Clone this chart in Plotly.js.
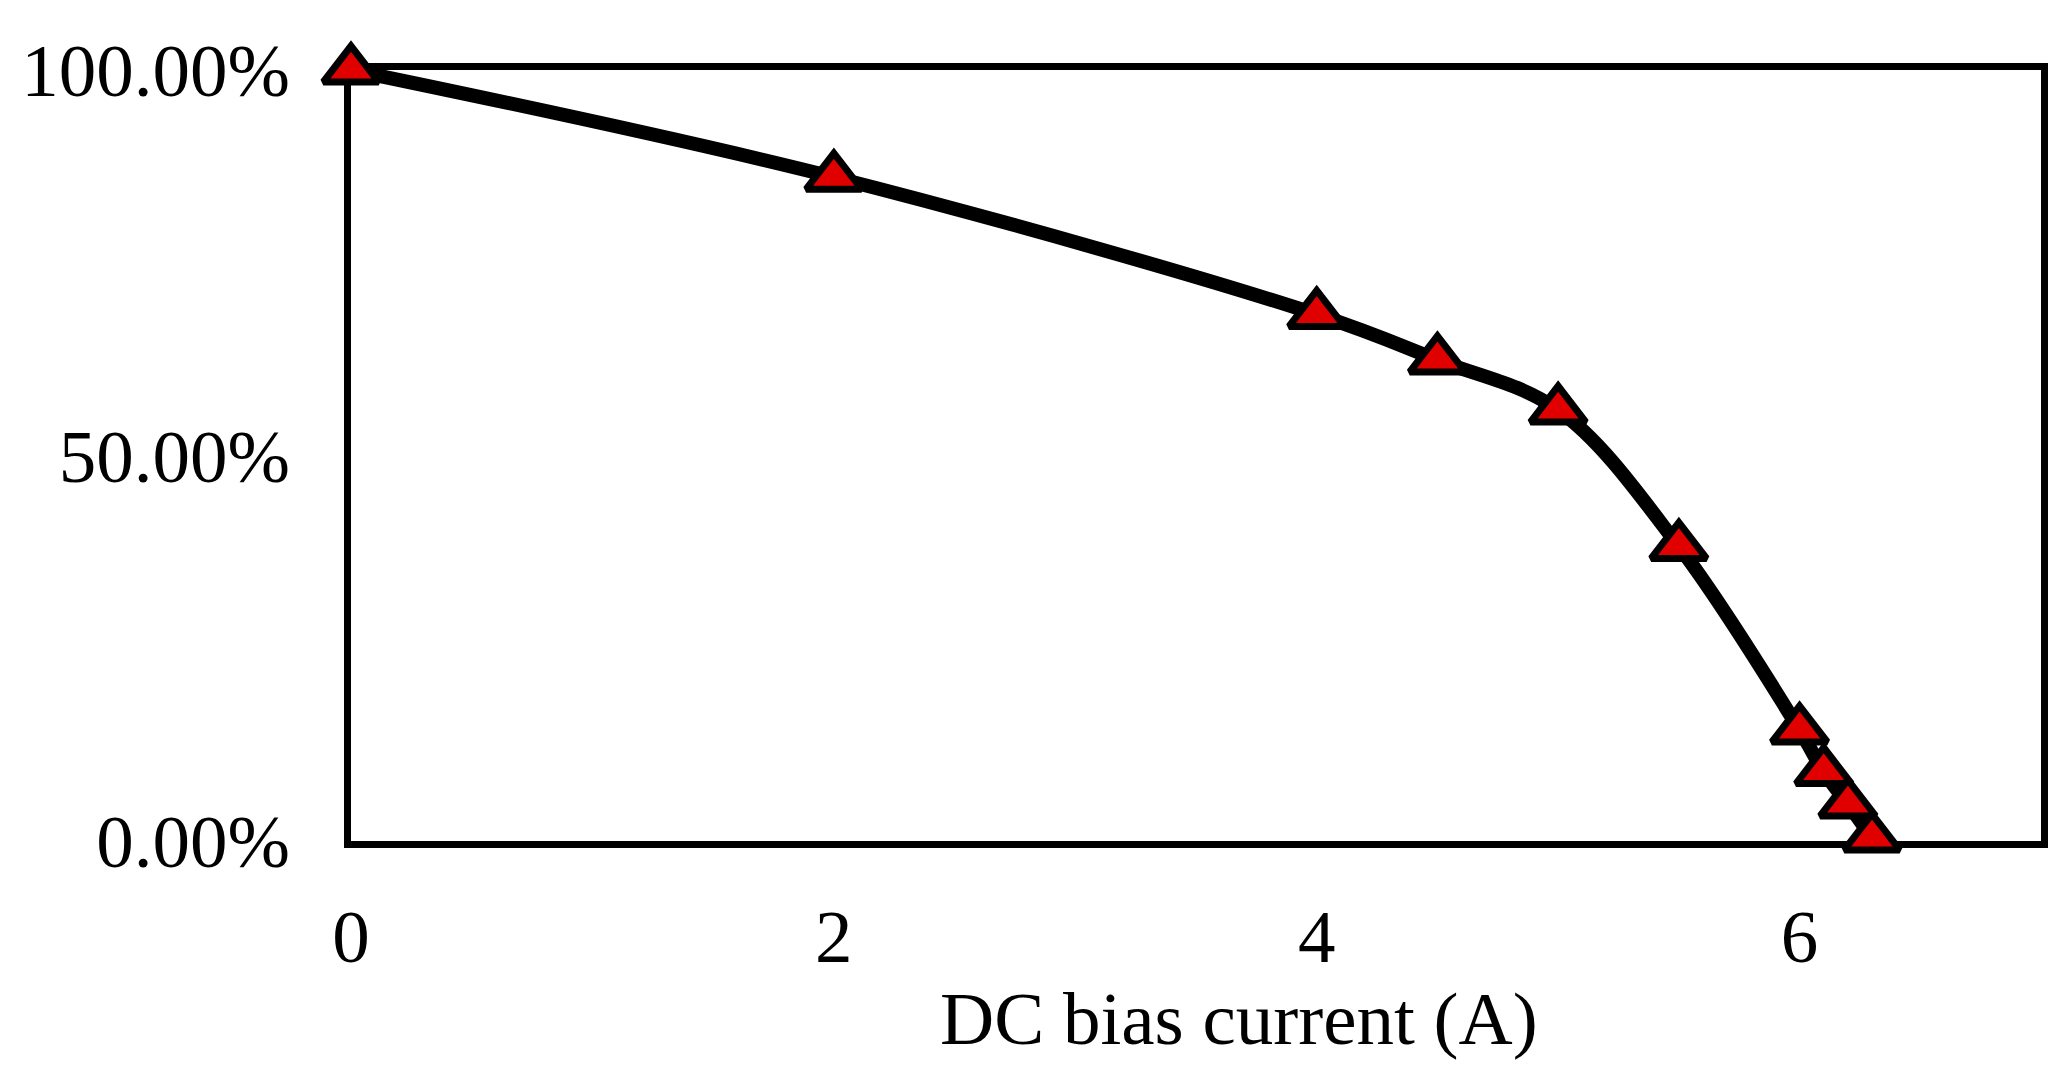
<!DOCTYPE html>
<html>
<head>
<meta charset="utf-8">
<script src="https://cdn.plot.ly/plotly-3.0.1.min.js"></script>
<style>
  html, body { margin: 0; padding: 0; background: #fff; }
  #myDiv { width: 2066px; height: 1077px; }
</style>
</head>
<body>
<div id="myDiv"></div>
<script>
// values
var biasCurrent = [0, 2, 4, 4.5, 5, 5.5, 6, 6.1, 6.2, 6.3];
var ratio = [1.0, 0.861, 0.683, 0.624, 0.559, 0.382, 0.144, 0.090, 0.048, 0.004];

var yTicks = [0, 0.5, 1];
var xTicks = [0, 2, 4, 6];

var serif = 'Liberation Serif, Times New Roman, serif';

var trace1 = {
  x: biasCurrent,
  y: ratio,
  type: 'scatter',
  mode: 'lines+markers',
  cliponaxis: false,
  line: { color: '#000000', width: 14, shape: 'spline', smoothing: 1 },
  marker: {
    symbol: 'triangle-up',
    size: 48,
    color: '#e00000',
    line: { color: '#000000', width: 7 }
  },
  showlegend: false,
  hoverinfo: 'x+y'
};

var layout = {
  width: 2066,
  height: 1077,
  margin: { l: 351, r: 25, t: 70, b: 236, pad: 0 },
  paper_bgcolor: '#ffffff',
  plot_bgcolor: '#ffffff',
  font: { family: serif, size: 75, color: '#000000' },
  showlegend: false,
  xaxis: {
    range: [0, 7],
    tickvals: xTicks,
    ticks: '',
    showgrid: false,
    zeroline: false,
    showline: true,
    mirror: true,
    linecolor: '#000000',
    linewidth: 7,
    layer: 'below traces',
    ticklabelstandoff: 24,
    tickfont: { family: serif, size: 75, color: '#000000' }
  },
  yaxis: {
    range: [0, 1],
    tickvals: yTicks,
    tickformat: '.2%',
    ticks: '',
    showgrid: false,
    zeroline: false,
    showline: true,
    mirror: true,
    linecolor: '#000000',
    linewidth: 7,
    layer: 'below traces',
    ticklabelstandoff: 39,
    tickfont: { family: serif, size: 75, color: '#000000' }
  },
  annotations: [{
    text: 'DC bias current (A)',
    xref: 'paper',
    yref: 'paper',
    x: 0.5254,
    y: -0.2296,
    xanchor: 'center',
    yanchor: 'middle',
    showarrow: false,
    font: { family: serif, size: 75, color: '#000000' }
  }]
};

Plotly.newPlot('myDiv', [trace1], layout, { displayModeBar: false, staticPlot: true });
</script>
</body>
</html>
